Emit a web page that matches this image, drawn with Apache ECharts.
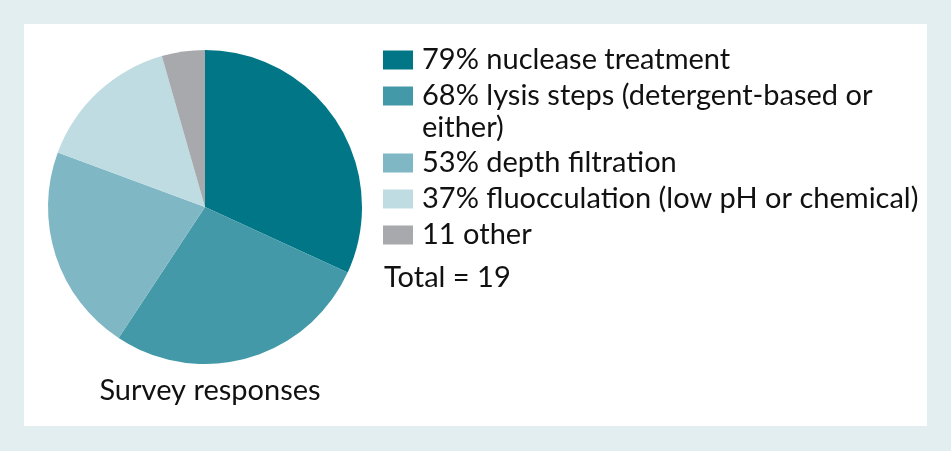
<!DOCTYPE html>
<html><head><meta charset="utf-8">
<script src="https://cdn.jsdelivr.net/npm/echarts@6/dist/echarts.min.js"></script>
<style>html,body{margin:0;padding:0;background:#e3eef1;}#c{width:951px;height:451px;}</style>
</head><body><div id="c"></div>
<script>
const categories = ['nuclease treatment', 'lysis steps (detergent-based or either)', 'depth filtration', 'fluocculation (low pH or chemical)', 'other'];
const values = [79, 68, 53, 37, 11];
const legendLabels = ['79% nuclease treatment', '68% lysis steps (detergent-based or', '53% depth filtration', '37% fluocculation (low pH or chemical)', '11 other'];
const legendWrap = 'either)';
const totalText = 'Total = 19';
const chartTitle = 'Survey responses';
const colors = ['#007687', '#4399a8', '#7fb8c4', '#bedce1', '#a7a9ac'];

const FONT = 'Lato';
const FS = 29;
const labelOf = {};
categories.forEach((c, i) => labelOf[c] = legendLabels[i]);

const chart = echarts.init(document.getElementById('c'), null, {renderer: 'canvas'});
const legendCommon = {
  orient: 'vertical', left: 383, padding: 0, itemWidth: 30, itemHeight: 19, itemGap: 4,
  icon: 'rect', selectedMode: false,
  formatter: n => labelOf[n],
  textStyle: {fontFamily: FONT, fontSize: FS, lineHeight: 32, color: '#111', padding: [0, 0, 0, 4]}
};
const txt = (s, x, y, align) => ({type: 'text', x: x, y: y,
  style: {text: s, font: FS + 'px ' + FONT, fill: '#111', align: align || 'left', verticalAlign: 'middle'}});
chart.setOption({
  backgroundColor: '#e3eef1',
  animation: false,
  color: colors,
  graphic: [
    {type: 'rect', x: 24, y: 24, shape: {width: 903, height: 402}, style: {fill: '#ffffff'}, z: -10},
    txt(legendWrap, 422, 128),
    txt(totalText, 384, 278),
    txt(chartTitle, 210, 391, 'center')
  ],
  legend: [
    Object.assign({}, legendCommon, {top: 44, data: categories.slice(0, 2)}),
    Object.assign({}, legendCommon, {top: 147, data: categories.slice(2)})
  ],
  series: [{
    type: 'pie',
    center: [205, 207],
    radius: 157,
    startAngle: 90,
    clockwise: true,
    label: {show: false},
    labelLine: {show: false},
    itemStyle: {borderWidth: 0},
    emphasis: {disabled: true},
    data: categories.map((c, i) => ({name: c, value: values[i]}))
  }]
});
</script></body></html>
